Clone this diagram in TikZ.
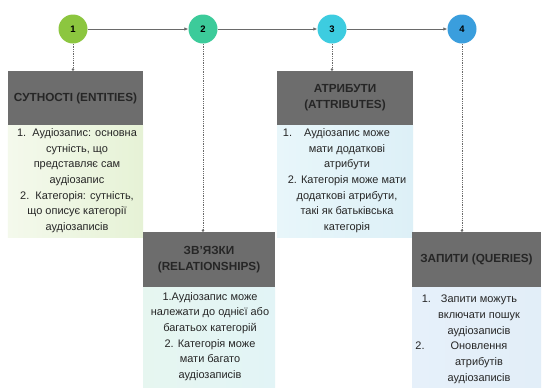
\documentclass[tikz,border=0pt]{standalone}
\usepackage{fontspec}
\setmainfont{Liberation Sans}[BoldFont={Liberation Sans Bold}]
\usetikzlibrary{arrows.meta}
\definecolor{hdr}{HTML}{6D6D6D}
\definecolor{cA}{HTML}{8CC63F}
\definecolor{cB}{HTML}{3CCB9A}
\definecolor{cC}{HTML}{3DCCE0}
\definecolor{cD}{HTML}{3A9EDD}
\definecolor{lnk}{HTML}{6A6A6A}
\definecolor{txt}{HTML}{262626}
\definecolor{gA}{HTML}{F4F9EC}
\definecolor{gB}{HTML}{E6F2D6}
\definecolor{bA}{HTML}{E8F6FA}
\definecolor{bB}{HTML}{DDF0F7}
\definecolor{mA}{HTML}{E6F6F0}
\definecolor{mB}{HTML}{E2F4F6}
\definecolor{qA}{HTML}{E6F0FA}
\definecolor{qB}{HTML}{E2EEF8}
\begin{document}
\begin{tikzpicture}[x=1bp,y=-1bp,
  num/.style={circle, minimum size=29bp, inner sep=0pt, text=black,
    font=\bfseries\fontsize{9.5}{10}\selectfont},
  hdrbox/.style={fill=hdr, inner sep=0pt, text=txt, align=center,
    font=\bfseries\fontsize{11.8}{16}\selectfont},
  bodybox/.style={inner sep=0pt, draw=none},
  bodytext/.style={anchor=north, inner sep=0pt, align=center, text=txt,
    font=\fontsize{11}{15.7}\selectfont},
  link/.style={draw=lnk, line width=0.9bp, -{Latex[length=4bp,width=3.5bp]}},
  drop/.style={draw=lnk, line width=0.8bp, densely dotted, -{Circle[length=2.6bp]}}
]
\useasboundingbox[fill=white] (0,0) rectangle (542,387);

% circles
\node[num, fill=cA] (c1) at (73,29) {1};
\node[num, fill=cB] (c2) at (203,29) {2};
\node[num, fill=cC] (c3) at (332,29) {3};
\node[num, fill=cD] (c4) at (462,29) {4};
\draw[link] (c1) -- (c2);
\draw[link] (c2) -- (c3);
\draw[link] (c3) -- (c4);

% bodies
\node[bodybox, minimum width=135bp, minimum height=112bp,
  left color=gA, right color=gB] (b1) at (75.5,181) {};
\node[bodybox, minimum width=136bp, minimum height=112bp,
  left color=bA, right color=bB] (b3) at (345,181) {};
\node[bodybox, minimum width=132bp, minimum height=104bp,
  left color=mA, right color=mB] (b2) at (209,339) {};
\node[bodybox, minimum width=129bp, minimum height=104bp,
  left color=qA, right color=qB] (b4) at (476.5,339) {};

% headers
\node[hdrbox, minimum width=135bp, minimum height=54bp] (h1) at (75.5,98) {СУТНОСТІ (ENTITIES)};
\node[hdrbox, minimum width=136bp, minimum height=54bp] (h3) at (345,98) {АТРИБУТИ\\(ATTRIBUTES)};
\node[hdrbox, minimum width=132bp, minimum height=55bp] (h2) at (209,259.5) {ЗВ'ЯЗКИ\\(RELATIONSHIPS)};
\node[hdrbox, minimum width=129bp, minimum height=55bp] (h4) at (476.5,259.5) {ЗАПИТИ (QUERIES)};

% drops
\draw[drop] (c1.south) -- (c1.south |- h1.north);
\draw[drop] (c2.south) -- (c2.south |- h2.north);
\draw[drop] (c3.south) -- (c3.south |- h3.north);
\draw[drop] (c4.south) -- (c4.south |- h4.north);

% texts
\node[bodytext] (t1) at (77,128.5) {1.\ \ Аудіозапис: основна\\сутність, що\\представляє сам\\аудіозапис\\2.\ \ Категорія: сутність,\\що описує категорії\\аудіозаписів};
\node[bodytext] (t3) at (347,128.5) {\llap{1.\hspace{12bp}}Аудіозапис може\\мати додаткові\\атрибути\\2. Категорія може мати\\додаткові атрибути,\\такі як батьківська\\категорія};
\node[bodytext] (t2) at (210,292) {1.Аудіозапис може\\належати до однієї або\\багатьох категорій\\2. Категорія може\\мати багато\\аудіозаписів};
\node[bodytext] (t4) at (479,295) {\llap{1.\hspace{10bp}}Запити можуть\\включати пошук\\аудіозаписів\\\llap{2.\hspace{26bp}}Оновлення\\атрибутів\\аудіозаписів};
\end{tikzpicture}
\end{document}
